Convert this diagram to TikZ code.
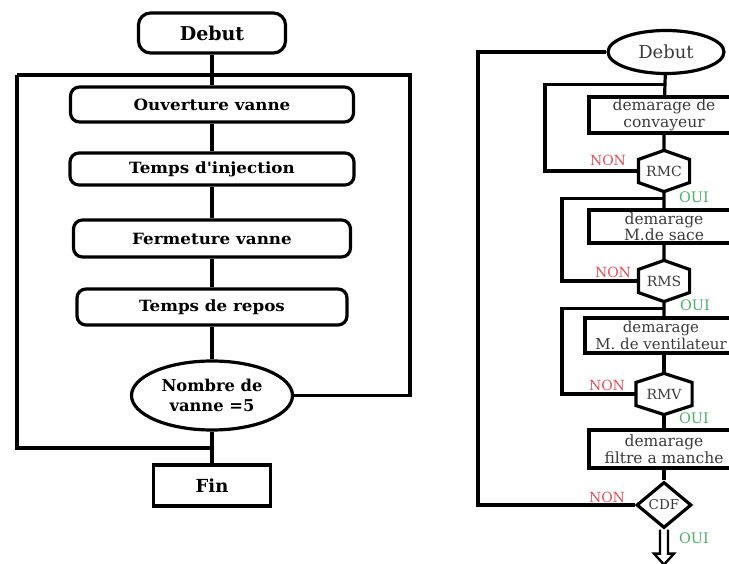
\documentclass[tikz,border=0pt]{standalone}
\usepackage{fontspec}
\setmainfont{DejaVu Serif}
\newfontfamily\widebf{DejaVu Serif}[FakeStretch=1.08]
\usetikzlibrary{shapes.geometric,calc}
\definecolor{nonred}{HTML}{E0505A}
\definecolor{ouigreen}{HTML}{4CAF6A}
\definecolor{txtgray}{HTML}{3A3A3A}

\newcommand{\hexdraw}[1]{%
  \draw (#1.north) -- ($(#1.north east)!0.22!(#1.south east)$)
    -- ($(#1.north east)!0.78!(#1.south east)$) -- (#1.south)
    -- ($(#1.north west)!0.78!(#1.south west)$)
    -- ($(#1.north west)!0.22!(#1.south west)$) -- cycle;}

\begin{document}
\begin{tikzpicture}[x=1pt,y=-1pt,line width=3.2pt,
  term/.style={draw,rounded corners=12pt,inner sep=0pt,
    font=\bfseries\fontsize{19}{22}\selectfont},
  lbox/.style={draw,rounded corners=9pt,inner sep=0pt,
    font=\widebf\bfseries\fontsize{15.5}{18}\selectfont},
  ell/.style={ellipse,draw,inner sep=0pt,align=center},
  finbox/.style={draw,rectangle,inner sep=0pt,
    font=\bfseries\fontsize{18}{21}\selectfont},
  rbox/.style={draw,rectangle,inner sep=0pt,align=center,text=txtgray,
    font=\fontsize{15.5}{16.5}\selectfont},
  hexnode/.style={rectangle,inner sep=0pt,text=txtgray,
    font=\fontsize{14}{16}\selectfont},
  decide/.style={diamond,draw,inner sep=0pt,aspect=1.2,text=txtgray,
    font=\fontsize{13.5}{15}\selectfont},
  nonlbl/.style={text=nonred,font=\fontsize{14}{16}\selectfont},
  ouilbl/.style={text=ouigreen,font=\fontsize{14.5}{16}\selectfont}]
\useasboundingbox (0,0) rectangle (729,564);
\clip (0,0) rectangle (729,564);

% ---------- valve cycle ----------
\node[term,minimum width=147pt,minimum height=40pt] (dL) at (212,33) {Debut};
\node[lbox,minimum width=283pt,minimum height=35pt] (ouv) at (212,104.5) {Ouverture vanne};
\node[lbox,minimum width=284pt,minimum height=32pt] (inj) at (212,169) {Temps d'injection};
\node[lbox,minimum width=277pt,minimum height=37pt] (fer) at (212,238.5) {Fermeture vanne};
\node[lbox,minimum width=270pt,minimum height=36pt] (rep) at (212,307) {Temps de repos};
\node[ell,minimum width=161pt,minimum height=69pt,
  font=\bfseries\fontsize{16.3}{19.5}\selectfont] (nb) at (212,395.5) {Nombre de\\vanne =5};
\node[finbox,minimum width=117pt,minimum height=41pt] (fin) at (212,485.5) {Fin};

\coordinate (tl) at (17,75);
\coordinate (tr) at (410,75);
\coordinate (bl) at (17,448);

\draw (dL) -- (ouv) -- (inj) -- (fer) -- (rep) -- (nb) -- (fin);
\draw (tl) -- (tr) -- (tr |- nb.east) -- (nb.east);
\draw (tl) -- (bl) -- (bl -| fin.north);

% ---------- start-up sequence ----------
\node[ell,minimum width=116pt,minimum height=43pt,text=txtgray,
  font=\fontsize{18}{20}\selectfont] (dR) at (666,52) {Debut};
\node[rbox,minimum width=150pt,minimum height=36pt] (b1) at (664,115) {demarage de\\convayeur};
\node[hexnode,minimum width=48pt,minimum height=38pt] (rmc) at (664,171) {RMC};
\node[rbox,minimum width=150pt,minimum height=33pt] (b2) at (664,226.5) {demarage\\M.de sace};
\node[hexnode,minimum width=48pt,minimum height=38pt] (rms) at (664,281) {RMS};
\node[rbox,minimum width=152pt,minimum height=35pt,
  font=\fontsize{15}{16.5}\selectfont] (b3) at (661,335.5) {demarage\\M. de ventilateur};
\node[hexnode,minimum width=53pt,minimum height=38pt] (rmv) at (664,394) {RMV};
\node[rbox,minimum width=150pt,minimum height=38pt] (b4) at (664,449) {demarage\\filtre a manche};
\node[decide,minimum width=55pt,minimum height=46pt] (cdf) at (664,505) {CDF};

\hexdraw{rmc}
\hexdraw{rms}
\hexdraw{rmv}

\draw (dR) -- (b1) -- (rmc) -- (b2) -- (rms) -- (b3.north -| rms.south);
\draw (b3.south -| rmv.north) -- (rmv) -- (b4) -- (cdf);

\coordinate (lo) at (478,0);
\coordinate (k1) at (545,0);
\coordinate (k2) at (562,0);
\coordinate (j1) at ($(dR.south)!0.45!(b1.north)$);
\coordinate (j2) at ($(rmc.south)!0.4!(b2.north)$);
\coordinate (j3) at ($(rms.south)!0.45!(b3.north -| rms.south)$);

\draw (dR.west) -| (lo |- cdf.west) -- (cdf.west);
\draw (rmc.west) -| (k1 |- j1) -- (j1);
\draw (rms.west) -| (k2 |- j2) -- (j2);
\draw (rmv.west) -| (k2 |- j3) -- (j3);

% hollow exit arrow
\coordinate (ar) at (cdf.south);
\draw[line width=2.4pt,line join=miter] ($(ar)+(-4,0)$) -- ($(ar)+(-4,24)$) -- ($(ar)+(-10,24)$)
  -- ($(ar)+(0,35)$) -- ($(ar)+(10,24)$) -- ($(ar)+(4,24)$) -- ($(ar)+(4,0)$);

% branch labels
\node[nonlbl] (n1) at (608,160) {NON};
\node[nonlbl] (n2) at (613,272) {NON};
\node[nonlbl] (n3) at (607,385) {NON};
\node[nonlbl] (n4) at (607,497) {NON};
\node[ouilbl] (o1) at (694,197) {OUI};
\node[ouilbl] (o2) at (695,305) {OUI};
\node[ouilbl] (o3) at (694,418) {OUI};
\node[ouilbl] (o4) at (694,538) {OUI};
\end{tikzpicture}
\end{document}
